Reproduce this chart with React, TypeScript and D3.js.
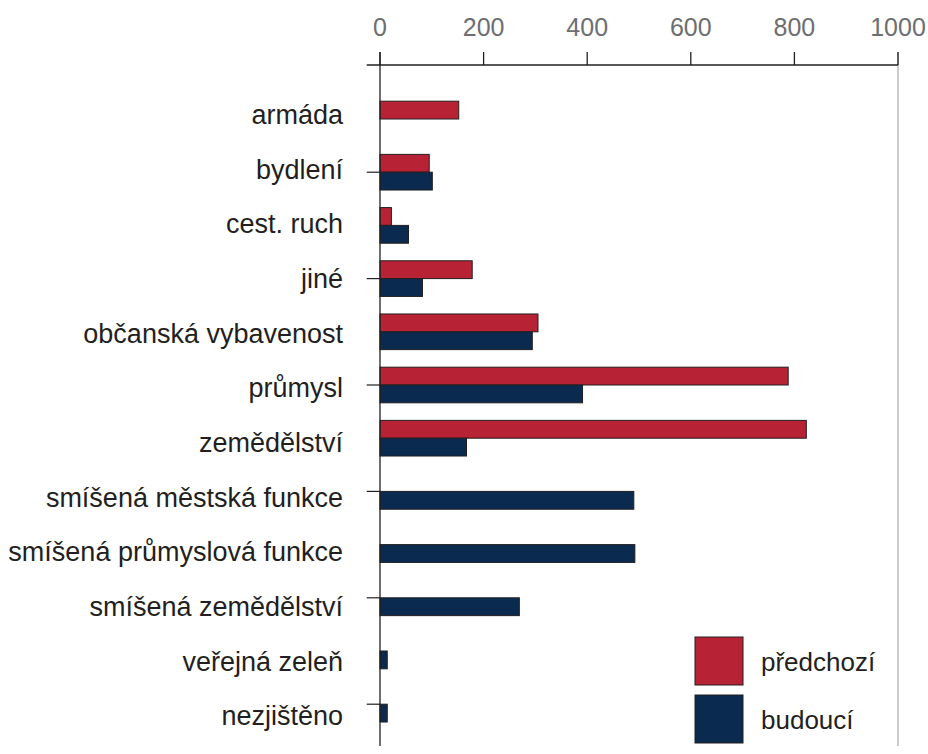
import * as d3 from "d3";

const categories = [
    "armáda",
    "bydlení",
    "cest. ruch",
    "jiné",
    "občanská vybavenost",
    "průmysl",
    "zemědělství",
    "smíšená městská funkce",
    "smíšená průmyslová funkce",
    "smíšená zemědělství",
    "veřejná zeleň",
    "nezjištěno",
];

const seriesNames = ["předchozí", "budoucí"];
const previous = [152, 95, 22, 178, 305, 788, 823, 0, 0, 0, 0, 0];
const future = [0, 101, 55, 82, 294, 391, 167, 490, 492, 269, 14, 14];
const xTicks = [0, 200, 400, 600, 800, 1000];

const colors = ["#b72234", "#0b2a50"];
const font = "'Liberation Sans', Arial, sans-serif";

const width = 928;
const height = 754;

export default function App() {
    const x = d3.scaleLinear().domain([0, 1000]).range([380, 898]);

    const y = d3
        .scaleBand<string>()
        .domain(categories)
        .range([92.4, 730.8])
        .paddingInner(0.33)
        .paddingOuter(0.165);

    const ySub = d3.scaleBand<string>().domain(seriesNames).range([0, y.bandwidth()]);

    // label rows are spaced a bit wider than the bars in the original
    const yLabel = d3.scalePoint<string>().domain(categories).range([114.4, 716]);

    const series = [previous, future];
    const axisTop = 52;
    const axisY = 65;
    const bottom = 746;

    return (
        <svg width={width} height={height} style={{ position: "absolute", left: 0, top: 0, background: "#fff" }}>
            {/* right frame line */}
            <line x1={x(1000)} x2={x(1000)} y1={axisTop} y2={bottom} stroke="#a7a9ac" strokeWidth={1.2} />

            {/* bars */}
            {series.map((vals, si) =>
                categories.map((c, i) => (
                    <rect
                        key={`${si}-${c}`}
                        x={x(0)}
                        y={(y(c) ?? 0) + (ySub(seriesNames[si]) ?? 0)}
                        width={x(vals[i]) - x(0)}
                        height={ySub.bandwidth()}
                        fill={colors[si]}
                        stroke="#231f20"
                        strokeWidth={1}
                    />
                ))
            )}

            {/* top axis */}
            <line x1={366.7} x2={x(1000)} y1={axisY} y2={axisY} stroke="#231f20" strokeWidth={1.3} />
            {xTicks.map((t) => (
                <g key={t}>
                    <line x1={x(t)} x2={x(t)} y1={axisTop} y2={axisY} stroke="#231f20" strokeWidth={1.3} />
                    <text
                        x={x(t)}
                        y={27}
                        dy="0.35em"
                        textAnchor="middle"
                        fontFamily={font}
                        fontSize={25}
                        fill="#6d6e71"
                    >
                        {t}
                    </text>
                </g>
            ))}

            {/* left axis */}
            <line x1={x(0)} x2={x(0)} y1={axisTop} y2={bottom} stroke="#231f20" strokeWidth={1.3} />
            {categories.map((c, i) =>
                i % 2 === 1 ? (
                    <line
                        key={c}
                        x1={366.7}
                        x2={x(0)}
                        y1={(y(c) ?? 0) + y.bandwidth() / 2}
                        y2={(y(c) ?? 0) + y.bandwidth() / 2}
                        stroke="#231f20"
                        strokeWidth={1.2}
                    />
                ) : null
            )}
            {categories.map((c) => (
                <text
                    key={c}
                    x={343}
                    y={yLabel(c)}
                    dy="0.35em"
                    textAnchor="end"
                    fontFamily={font}
                    fontSize={27}
                    fill="#231f20"
                >
                    {c}
                </text>
            ))}

            {/* legend */}
            {seriesNames.map((s, i) => (
                <g key={s} transform={`translate(695,${637 + i * 58})`}>
                    <rect width={48} height={48} fill={colors[i]} stroke="#231f20" strokeWidth={1} />
                    <text x={66} y={25} dy="0.35em" fontFamily={font} fontSize={26} fill="#231f20">
                        {s}
                    </text>
                </g>
            ))}
        </svg>
    );
}
